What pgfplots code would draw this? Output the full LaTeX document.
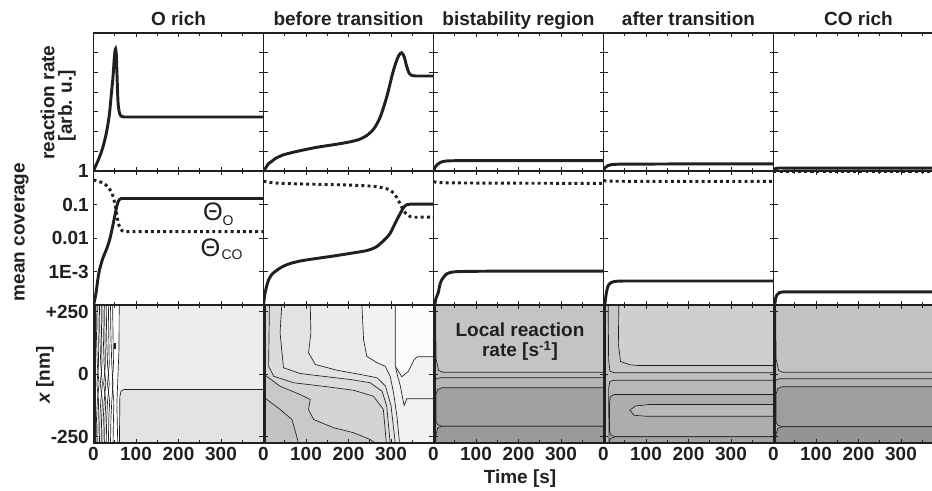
\documentclass[border=0pt]{standalone}
\usepackage{pgfplots}
\pgfplotsset{compat=1.18}
\usepackage{fontspec}
\setmainfont{Liberation Sans}
\definecolor{ink}{HTML}{231F20}
\newcommand\lab{\fontsize{14.25pt}{17pt}\selectfont\bfseries}

\pgfplotsset{
  panel/.style={
    scale only axis, width=127.5pt, anchor=south west,
    xmin=0, xmax=400,
    axis line style={ink, line width=1.4pt},
    tick style={ink, line width=0.6pt},
    major tick length=3pt, minor tick length=2pt,
    xtick={0,100,200,300}, minor xtick={50,150,250,350},
    xticklabels={}, yticklabels={},
    tick label style={font=\lab, text=ink},
  },
  rrow/.style={panel, height=103.5pt, ymin=0, ymax=7, ytick={1,2,3,4,5,6}},
  crow/.style={panel, height=100.5pt, ymin=1e-4, ymax=1,
    ytick={1e-4,1e-3,1e-2,1e-1,1}, yminorticks=false},
  mrow/.style={panel, height=103.5pt, ymin=-276, ymax=276, ytick={-250,0,250},
    axis on top, xticklabels={0,100,200,300}},
  tcurve/.style={ink, line width=2.2pt, smooth, tension=0.45},
  tdots/.style={ink, line width=2.2pt, dash pattern=on 2.2pt off 2.4pt, smooth, tension=0.45},
  cl/.style={ink, line width=0.5pt},
  reg/.style={fill=#1, draw=ink, line width=0.5pt},
}

\begin{document}
\begin{tikzpicture}

% ---------- row 1: reaction rate ----------
\begin{axis}[rrow, at={(70.125pt,240pt)}]
\addplot[tcurve] coordinates {(0,0) (5,0.25) (14,0.7) (22,1.2) (30,1.9) (37,2.8) (42,3.9)
  (46,4.8) (48.5,5.6) (50.5,6.08) (52,6.2) (53.5,5.95) (55,5.1) (56.5,4.1) (58,3.4)
  (61,2.95) (65,2.78) (72,2.74) (82,2.74) (95,2.74) (115,2.74) (145,2.74) (185,2.74)
  (240,2.74) (310,2.74) (400,2.74)};
\end{axis}
\begin{axis}[rrow, at={(197.625pt,240pt)}]
\addplot[tcurve] coordinates {(0,0) (5,0.15) (11,0.35) (20,0.5) (27,0.62) (47,0.82) (80,1.0)
  (125,1.2) (170,1.35) (204,1.48) (225,1.6) (243,1.8) (260,2.15) (274,2.7) (285,3.4)
  (293,4.0) (302,4.8) (310,5.4) (318,5.85) (325,6.0) (331,5.8) (337,5.3) (343,4.95)
  (350,4.84) (358,4.82) (368,4.82) (382,4.82) (400,4.82)};
\end{axis}
\begin{axis}[rrow, at={(325.125pt,240pt)}]
\addplot[tcurve] coordinates {(0,0) (4,0.2) (9,0.33) (15,0.42) (22,0.48) (32,0.51) (45,0.52)
  (62,0.525) (85,0.53) (120,0.53) (170,0.53) (240,0.53) (320,0.53) (400,0.53)};
\end{axis}
\begin{axis}[rrow, at={(452.625pt,240pt)}]
\addplot[tcurve] coordinates {(0,0.05) (4,0.17) (10,0.27) (18,0.32) (30,0.34) (45,0.35)
  (65,0.35) (95,0.35) (140,0.355) (200,0.36) (280,0.36) (400,0.36)};
\end{axis}
\begin{axis}[rrow, at={(580.125pt,240pt)}]
\addplot[tcurve] coordinates {(0,0.08) (5,0.12) (12,0.15) (22,0.15) (40,0.15) (70,0.15)
  (120,0.15) (200,0.15) (300,0.15) (400,0.15)};
\end{axis}

% ---------- row 2: mean coverage ----------
\begin{axis}[crow, ymode=log, at={(70.125pt,139.5pt)}, yticklabels={,1E-3,0.01,0.1,1}]
\addplot[tcurve] coordinates {(0,1e-4) (2,1.26e-4) (6,2.3e-4) (10,5.6e-4) (14,1.1e-3)
  (22,2.5e-3) (30,4.4e-3) (38,8.9e-3) (45,0.022) (50,0.045) (53,0.069) (57,0.112)
  (61,0.141) (66,0.151) (72,0.151) (80,0.151) (92,0.151) (110,0.151) (135,0.151)
  (170,0.151) (220,0.151) (290,0.151) (400,0.151)};
\addplot[tdots] coordinates {(0,0.54) (10,0.5) (22,0.44) (32,0.355) (42,0.24) (48,0.141)
  (53,0.069) (57,0.035) (61,0.022) (67,0.0166) (73,0.0155) (80,0.0155) (90,0.0155)
  (105,0.0155) (130,0.0155) (165,0.0155) (215,0.0155) (290,0.0155) (400,0.0155)};
\end{axis}
\begin{axis}[crow, ymode=log, at={(197.625pt,139.5pt)}]
\addplot[tcurve] coordinates {(0,1e-4) (3,2e-4) (7,3.5e-4) (12,5.6e-4) (20,8.3e-4) (32,1.1e-3)
  (45,1.4e-3) (63,1.74e-3) (90,2.1e-3) (125,2.45e-3) (165,2.9e-3) (204,3.47e-3)
  (245,4.27e-3) (266,5.5e-3) (285,8.9e-3) (298,0.0138) (310,0.028) (322,0.055)
  (330,0.083) (337,0.098) (345,0.102) (355,0.102) (368,0.102) (383,0.102) (400,0.102)};
\addplot[tdots] coordinates {(0,0.5) (5,0.48) (15,0.455) (30,0.437) (60,0.42) (100,0.407)
  (150,0.395) (204,0.38) (235,0.365) (260,0.347) (280,0.315) (298,0.269) (310,0.19)
  (317,0.135) (323,0.095) (329,0.069) (337,0.05) (345,0.0437) (355,0.0417) (367,0.0417)
  (382,0.0417) (400,0.0417)};
\end{axis}
\begin{axis}[crow, ymode=log, at={(325.125pt,139.5pt)}]
\addplot[tcurve] coordinates {(3,1e-4) (6,1.6e-4) (11,2.3e-4) (16,4.5e-4) (22,6.3e-4)
  (30,8.3e-4) (39,9.3e-4) (50,0.98e-3) (65,1e-3) (90,1.01e-3) (130,1.02e-3)
  (190,1.02e-3) (280,1.02e-3) (400,1.02e-3)};
\addplot[tdots] coordinates {(0,0.48) (10,0.455) (25,0.445) (50,0.44) (100,0.437)
  (200,0.432) (300,0.429) (400,0.427)};
\end{axis}
\begin{axis}[crow, ymode=log, at={(452.625pt,139.5pt)}]
\addplot[tcurve] coordinates {(3,1e-4) (6,2e-4) (10,3.5e-4) (16,4.5e-4) (25,5e-4) (35,5.15e-4)
  (50,5.2e-4) (75,5.2e-4) (110,5.2e-4) (160,5.2e-4) (230,5.2e-4) (310,5.2e-4) (400,5.2e-4)};
\addplot[tdots] coordinates {(0,0.52) (10,0.5) (30,0.495) (100,0.49) (250,0.49) (400,0.49)};
\end{axis}
\begin{axis}[crow, ymode=log, at={(580.125pt,139.5pt)}]
\addplot[tcurve] coordinates {(3,1e-4) (5,1.6e-4) (8,2e-4) (14,2.35e-4) (22,2.45e-4)
  (35,2.45e-4) (55,2.45e-4) (85,2.45e-4) (130,2.45e-4) (200,2.45e-4) (290,2.45e-4) (400,2.45e-4)};
\addplot[tdots] coordinates {(0,0.99) (400,0.99)};
\end{axis}

% ---------- row 3: local reaction rate maps ----------
% O rich
\begin{axis}[mrow, at={(70.125pt,36pt)}, yticklabels={-250,0,+250}]
\addplot[fill=black!7, draw=none] coordinates {(60,276) (60,-276) (400,-276) (400,276)} -- cycle;
\addplot[reg=black!11] coordinates {(400,-62) (72,-62) (65,-68) (62,-90) (61,-276) (400,-276)} -- cycle;
\addplot[cl] coordinates {(60.5,276) (60,100) (57,-30) (55,-120) (57,-276)};
\addplot[cl] coordinates {(6,276) (7,150) (9,40) (13,-40) (9,-110) (7,-180) (6,-276)};
\addplot[cl] coordinates {(10,276) (11,150) (12,40) (8,-40) (12,-110) (11,-180) (10,-276)};
\addplot[cl] coordinates {(14,276) (15,150) (17,40) (21,-40) (17,-110) (15,-180) (14,-276)};
\addplot[cl] coordinates {(18,276) (19,150) (20,40) (16,-40) (21,-110) (19,-180) (18,-276)};
\addplot[cl] coordinates {(22,276) (23,150) (25,40) (29,-40) (25,-110) (23,-180) (22,-276)};
\addplot[cl] coordinates {(26,276) (27,150) (28,40) (24,-40) (29,-110) (27,-180) (26,-276)};
\addplot[cl] coordinates {(30,276) (31,150) (33,40) (37,-40) (33,-110) (31,-180) (30,-276)};
\addplot[cl] coordinates {(35,276) (36,150) (37,40) (33,-40) (38,-110) (36,-180) (35,-276)};
\addplot[cl] coordinates {(40,276) (41,150) (43,40) (46,-40) (43,-110) (41,-180) (40,-276)};
\addplot[cl] coordinates {(45,276) (46,150) (47,40) (44,-40) (48,-110) (47,-180) (46,-276)};
\addplot[ink, line width=1.2pt] coordinates {(51,125) (51,100)};
\addplot[ink, line width=1.6pt] coordinates {(3,-276) (3,276)};
\end{axis}
% before transition
\begin{axis}[mrow, at={(197.625pt,36pt)}]
\addplot[fill=black!5, draw=none] coordinates {(0,276) (0,-276) (400,-276) (400,276)} -- cycle;
\addplot[reg=black!1] coordinates {(310,276) (310,31) (325.6,-11) (341,11) (354.6,58) (362,68.7) (400,68.7) (400,276)} -- cycle;
\addplot[reg=black!8] coordinates {(231.5,276) (235.5,138) (243,71) (267,45) (286.5,31) (298,-9)
  (306,-75) (314,-169) (320,-276) (0,-276) (0,276)} -- cycle;
\addplot[reg=black!11] coordinates {(110,276) (111.5,165) (106,85) (122,38) (173,15) (228,-2)
  (267,-15) (287,-48) (300,-126) (310,-276) (0,-276) (0,276)} -- cycle;
\addplot[reg=black!14] coordinates {(43,276) (39,165) (47,25) (86,2) (149,-11) (204,-22)
  (251,-35) (279,-69) (290,-129) (298,-276) (0,-276) (0,276)} -- cycle;
\addplot[reg=black!17] coordinates {(14,276) (12,31) (24,-9) (71,-35) (149,-51) (212,-65)
  (259,-89) (282,-142) (289,-276) (0,-276) (0,276)} -- cycle;
\addplot[reg=black!21] coordinates {(0,0) (8,-10) (39,-49) (86,-82) (110,-102) (106,-142)
  (118,-182) (165,-215) (212,-235) (251,-262) (263,-276) (0,-276)} -- cycle;
\addplot[reg=black!24] coordinates {(0,-90) (8,-102) (39,-142) (67,-182) (78,-249) (82,-276) (0,-276)} -- cycle;
\addplot[cl] coordinates {(400,-99) (337,-99) (331,-126) (328,-102) (322,-48) (316,-11) (311,25)};
\addplot[ink, line width=1.6pt] coordinates {(3,-276) (3,276)};
\end{axis}
% bistability region
\begin{axis}[mrow, at={(325.125pt,36pt)}]
\addplot[fill=black!23, draw=none] coordinates {(0,276) (0,-276) (400,-276) (400,276)} -- cycle;
\addplot[reg=black!26] coordinates {(400,7) (22,7) (12,14) (6,60) (5,276) (0,276) (0,-276) (400,-276)} -- cycle;
\addplot[reg=black!29] coordinates {(400,-15) (15,-15) (6,-20) (2,-30) (0,-30) (0,-276) (400,-276)} -- cycle;
\addplot[reg=black!37] coordinates {(400,-55) (20,-55) (10,-62) (6,-80) (6,-190) (10,-203) (20,-209) (400,-209)} -- cycle;
\addplot[reg=black!40] coordinates {(400,-209) (20,-209) (10,-215) (6,-240) (5,-276) (400,-276)} -- cycle;
\addplot[ink, line width=1.6pt] coordinates {(3,-276) (3,276)};
\end{axis}
% after transition
\begin{axis}[mrow, at={(452.625pt,36pt)}]
\addplot[fill=black!19, draw=none] coordinates {(0,276) (0,-276) (400,-276) (400,276)} -- cycle;
\addplot[reg=black!22] coordinates {(400,34) (81,34) (62,37) (40,50) (35,120) (36,276) (0,276) (0,-276) (400,-276)} -- cycle;
\addplot[reg=black!25] coordinates {(400,5) (25,5) (15,12) (12,60) (11,276) (0,276) (0,-276) (400,-276)} -- cycle;
\addplot[reg=black!28] coordinates {(400,-25) (25,-25) (15,-30) (12,-60) (13,-276) (400,-276)} -- cycle;
\addplot[reg=black!32] coordinates {(400,-82) (25,-82) (16,-90) (14,-120) (14,-230) (18,-245) (28,-251) (400,-251)} -- cycle;
\addplot[reg=black!28] coordinates {(400,-122) (108,-122) (75,-128) (62,-145) (72,-165) (100,-169) (400,-169)} -- cycle;
\addplot[reg=black!36] coordinates {(400,-251) (28,-251) (16,-258) (13,-276) (400,-276)} -- cycle;
\addplot[ink, line width=1.6pt] coordinates {(3,-276) (3,276)};
\end{axis}
% CO rich
\begin{axis}[mrow, at={(580.125pt,36pt)}]
\addplot[fill=black!24, draw=none] coordinates {(0,276) (0,-276) (400,-276) (400,276)} -- cycle;
\addplot[reg=black!27] coordinates {(400,7) (22,7) (12,14) (6,60) (5,276) (0,276) (0,-276) (400,-276)} -- cycle;
\addplot[reg=black!30] coordinates {(400,-19) (15,-19) (6,-24) (2,-34) (0,-34) (0,-276) (400,-276)} -- cycle;
\addplot[reg=black!38] coordinates {(400,-51) (20,-51) (10,-58) (6,-80) (6,-192) (10,-205) (20,-211) (400,-211)} -- cycle;
\addplot[reg=black!42] coordinates {(400,-211) (20,-211) (10,-217) (6,-240) (5,-276) (400,-276)} -- cycle;
\addplot[ink, line width=1.6pt] coordinates {(3,-276) (3,276)};
\end{axis}

% ---------- texts ----------
\begin{scope}[every node/.style={font=\lab, text=ink, inner sep=0pt}]
\node[anchor=base] at (133.875pt,348.75pt) {O rich};
\node[anchor=base] at (261.375pt,348.75pt) {before transition};
\node[anchor=base] at (388.875pt,348.75pt) {bistability region};
\node[anchor=base] at (516.375pt,348.75pt) {after transition};
\node[anchor=base] at (643.875pt,348.75pt) {CO rich};
\node[anchor=base] at (390pt,5.5pt) {Time [s]};
\node[rotate=90] at (35.6pt,291.4pt) {reaction rate};
\node[rotate=90] at (50.25pt,289.1pt) {[arb. u.]};
\node[rotate=90] at (16.1pt,194.25pt) {mean coverage};
\node[rotate=90] at (33.75pt,87pt) {\textit{x} [nm]};
\node[anchor=base] at (390pt,115.5pt) {Local reaction};
\node[anchor=base] at (390pt,100.5pt) {rate [s\textsuperscript{-1}]};
\end{scope}
\begin{scope}[every node/.style={text=ink, inner sep=0pt}]
\node[font=\fontsize{19pt}{20pt}\selectfont] at (159.75pt,209.25pt) {Θ};
\node[font=\fontsize{10.5pt}{11pt}\selectfont] at (171pt,202.5pt) {O};
\node[font=\fontsize{19pt}{20pt}\selectfont] at (157.9pt,182.6pt) {Θ};
\node[font=\fontsize{10.5pt}{11pt}\selectfont] at (174pt,177pt) {CO};
\end{scope}

\pgfresetboundingbox
\path[use as bounding box] (0,0) rectangle (699pt,368.25pt);
\end{tikzpicture}
\end{document}
